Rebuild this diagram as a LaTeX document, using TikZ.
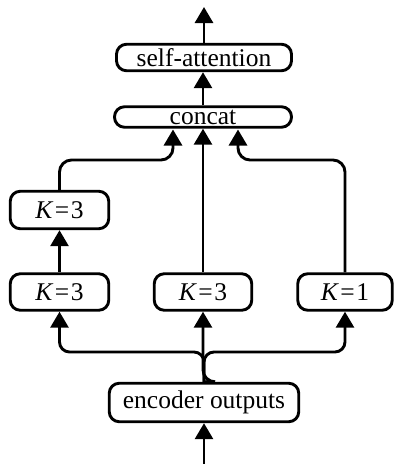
\documentclass[tikz,border=0pt]{standalone}
\usepackage{fontspec}
\setmainfont{Liberation Serif}
\usetikzlibrary{arrows.meta}
\newcommand{\Keq}[1]{\textit{K}\kern1.5pt=\kern1.5pt#1}
\begin{document}
\begin{tikzpicture}[x=1pt,y=-1pt,
  line width=2.9pt,
  box/.style={draw, rounded corners=10pt, inner sep=0pt,
    font=\fontsize{25.5}{30}\selectfont},
  conn/.style={-{Triangle[length=16pt,width=18pt]}, rounded corners=12pt},
  fork/.style={-{Triangle[length=16pt,width=18pt]}, rounded corners=10pt}]
\useasboundingbox (0,0) rectangle (395,464);
\node[box, minimum width=175pt, minimum height=26.5pt] (sa) at (204,57.5) {self-attention};
\node[box, minimum width=177pt, minimum height=20.5pt] (cc) at (203,117) {concat};
\node[box, minimum width=98.5pt, minimum height=37.5pt] (k3t) at (59.5,210) {\Keq{3}};
\node[box, minimum width=98.5pt, minimum height=36.5pt] (k3l) at (59.5,292) {\Keq{3}};
\node[box, minimum width=97.5pt, minimum height=36.5pt] (k3m) at (203,292) {\Keq{3}};
\node[box, minimum width=94.5pt, minimum height=36.5pt] (k1) at (345,292) {\Keq{1}};
\node[box, minimum width=189.5pt, minimum height=38.5pt] (enc) at (204,402.5) {encoder outputs};
\coordinate (top) at (204,7);
\coordinate (bot) at (204,464);
% top
\draw[conn] (sa.north) -- (top);
\draw[conn] (cc.north) -- (cc.north |- sa.south);
% left column
\draw[conn] (k3l.north) -- (k3t.south);
\draw[conn] (k3t.north) -- (59.5,160) -- (173,160) -- (173,129.5);
\draw[conn] (k3m.north) -- (k3m.north |- cc.south);
\draw[conn] (k1.north) -- (345,160) -- (238,160) -- (238,129.5);
% fork
\draw[fork] (enc.north) -- (204,352) -- (59.5,352) -- (k3l.south);
\draw[fork] (enc.north) -- (204,352) -- (345,352) -- (k1.south);
\draw[conn] (enc.north) -- (enc.north -| k3m.south) -- (k3m.south);
\draw[conn] (bot) -- (enc.south);
\end{tikzpicture}
\end{document}
